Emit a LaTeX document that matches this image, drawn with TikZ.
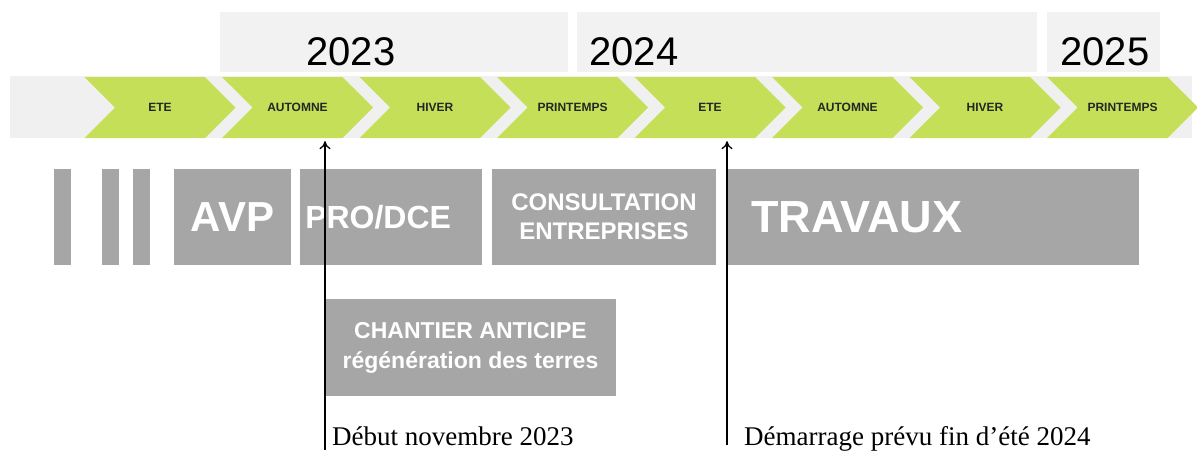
\documentclass[tikz,border=0pt]{standalone}
\usepackage{fontspec}
\setmainfont{Liberation Serif}
\setsansfont{Liberation Sans}
\usetikzlibrary{positioning,shapes.symbols,arrows.meta}
\definecolor{saison}{RGB}{197,224,88}
\definecolor{phase}{RGB}{166,166,166}
\definecolor{bande}{RGB}{240,240,240}
\definecolor{annee}{RGB}{242,242,242}
\tikzset{
  saisonbox/.style={signal, signal to=east, signal from=west, fill=saison,
    minimum width=151pt, minimum height=61pt, inner sep=0pt,
    font=\sffamily\bfseries\fontsize{12}{12}\selectfont, text=black!85},
  anneebox/.style={fill=annee, inner sep=0pt, minimum height=60pt},
  anneetext/.style={font=\sffamily\fontsize{40}{40}\selectfont, inner sep=0pt},
  phasebox/.style={fill=phase, inner sep=0pt, minimum height=96pt, text=white,
    align=center, font=\sffamily\bfseries\fontsize{24}{29}\selectfont},
  phasetext/.style={text=white, inner sep=0pt, font=\sffamily\bfseries},
  datetext/.style={font=\fontsize{27}{27}\selectfont, anchor=base west, inner sep=0pt},
  repere/.style={-{To[length=8pt,width=11pt]}, line width=1.3pt, shorten >=3pt},
}
\begin{document}
\begin{tikzpicture}[x=1pt,y=-1pt]
\useasboundingbox[fill=white] (0,0) rectangle (1197,453);
% annees
\node[anneebox, minimum width=348pt] (a2023) at (394,42) {};
\node[anneebox, minimum width=460pt] (a2024) at (807,42) {};
\node[anneebox, minimum width=113pt] (a2025) at (1103.5,42) {};
\node[anneetext] at (351,51.5) {2023};
\node[anneetext] at (634,51.5) {2024};
\node[anneetext] at (1105,51.5) {2025};
% saisons
\node[fill=bande, minimum width=1182pt, minimum height=62pt, inner sep=0pt] (bande) at (601,107) {};
\node[saisonbox] (ete1) at (160,107.5) {ETE};
\node[saisonbox] (aut1) at (297.5,107.5) {AUTOMNE};
\node[saisonbox] (hiv1) at (435,107.5) {HIVER};
\node[saisonbox] (pri1) at (572.5,107.5) {PRINTEMPS};
\node[saisonbox] (ete2) at (710,107.5) {ETE};
\node[saisonbox] (aut2) at (847.5,107.5) {AUTOMNE};
\node[saisonbox] (hiv2) at (985,107.5) {HIVER};
\node[saisonbox] (pri2) at (1122.5,107.5) {PRINTEMPS};
% phases
\node[phasebox, minimum width=17pt] (bar1) at (62,217) {};
\node[phasebox, minimum width=17pt] (bar2) at (110.5,217) {};
\node[phasebox, minimum width=17pt] (bar3) at (141.3,217) {};
\node[phasebox, minimum width=117pt, font=\sffamily\bfseries\fontsize{42}{42}\selectfont] (avp) at (232.5,217) {AVP};
\node[phasebox, minimum width=181.5pt] (pro) at (391,217) {};
\node[phasetext, font=\sffamily\bfseries\fontsize{32}{32}\selectfont, anchor=west, right=5pt of pro.west] (protext) {PRO/DCE};
\node[phasebox, minimum width=224pt] (consult) at (604,217) {CONSULTATION\\ENTREPRISES};
\node[phasebox, minimum width=411.5pt] (trav) at (933,217) {};
\node[phasetext, font=\sffamily\bfseries\fontsize{45}{45}\selectfont, anchor=west, right=24pt of trav.west] (travtext) {TRAVAUX};
\node[phasebox, minimum width=291pt, minimum height=97pt, font=\sffamily\bfseries\fontsize{23}{30}\selectfont] (chantier) at (470.5,347.5) {CHANTIER ANTICIPE\\régénération des terres};
% reperes
\coordinate (p1) at (325,450);
\coordinate (p2) at (727,445);
\draw[repere] (p1) -- (p1 |- aut1.south);
\draw[repere] (p2) -- (p2 |- ete2.south);
\node[datetext] (debut) at (332,445) {Début novembre 2023};
\node[datetext] (demarrage) at (744,445) {Démarrage prévu fin d’été 2024};
\end{tikzpicture}
\end{document}
